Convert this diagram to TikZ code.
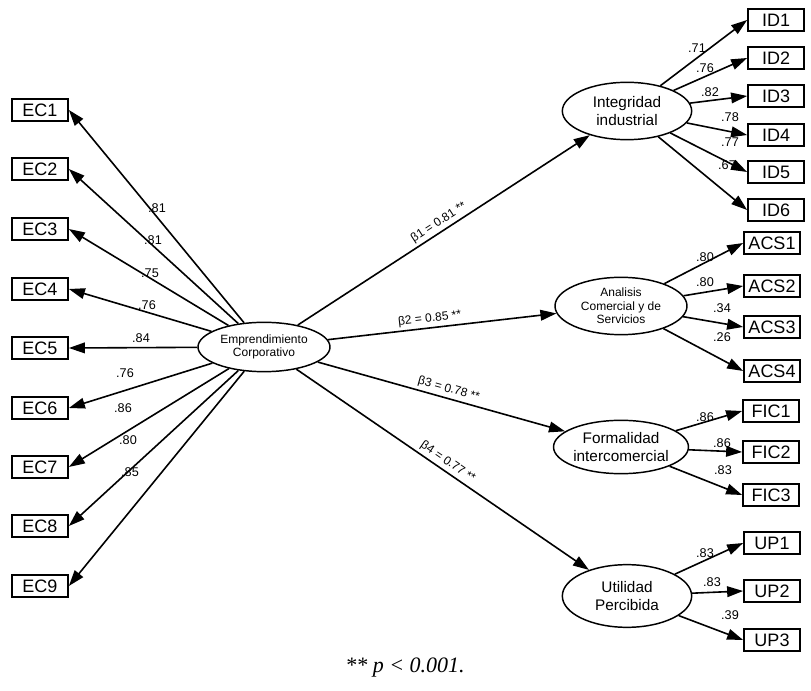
\documentclass[tikz,border=0pt]{standalone}
\usepackage{fontspec}
\setmainfont{Liberation Sans}
\newfontfamily\capfont{Liberation Serif}
\usetikzlibrary{shapes.geometric, arrows.meta}

\tikzset{
  ind/.style={draw, line width=1.3pt, minimum width=42pt, minimum height=17pt, inner sep=0pt, font=\fontsize{13.5}{13.5}\selectfont},
  lat/.style={draw, ellipse, line width=1.1pt, inner sep=0pt, align=center},
  arr/.style={line width=1.2pt, -{Triangle[length=12pt,width=8pt]}},
  load/.style={font=\fontsize{9.5}{9.5}\selectfont, inner sep=0pt},
  beta/.style={font=\fontsize{9}{9}\selectfont, sloped, above, inner sep=2pt}
}

\begin{document}
\begin{tikzpicture}[x=0.75pt, y=-0.75pt]
\useasboundingbox (0,0) rectangle (811,691);

% latent variables
\node[lat, minimum width=99pt, minimum height=37pt, font=\fontsize{9}{10}\selectfont] (emp) at (264,347) {Emprendimiento\\Corporativo};
\node[lat, minimum width=97pt, minimum height=43pt, font=\fontsize{11.5}{14}\selectfont] (integ) at (627,111) {Integridad\\industrial};
\node[lat, minimum width=99pt, minimum height=43pt, font=\fontsize{9}{10}\selectfont] (analisis) at (621,306) {Analisis\\Comercial y de\\Servicios};
\node[lat, minimum width=99pt, minimum height=40pt, font=\fontsize{11.5}{13.5}\selectfont] (formal) at (621,447) {Formalidad\\intercomercial};
\node[lat, minimum width=97pt, minimum height=47pt, font=\fontsize{11.5}{13}\selectfont] (util) at (627,596) {Utilidad\\Percibida};

% indicators of Emprendimiento Corporativo
\node[ind] (ec1) at (40,110) {EC1};
\node[ind] (ec2) at (40,169) {EC2};
\node[ind] (ec3) at (40,229) {EC3};
\node[ind] (ec4) at (40,289) {EC4};
\node[ind] (ec5) at (40,348) {EC5};
\node[ind] (ec6) at (40,408) {EC6};
\node[ind] (ec7) at (40,467) {EC7};
\node[ind] (ec8) at (40,526) {EC8};
\node[ind] (ec9) at (40,586) {EC9};

% indicators of the four outcomes
\node[ind] (id1) at (776,20) {ID1};
\node[ind] (id2) at (776,58) {ID2};
\node[ind] (id3) at (776,96) {ID3};
\node[ind] (id4) at (776,135) {ID4};
\node[ind] (id5) at (776,172) {ID5};
\node[ind] (id6) at (776,210) {ID6};

\node[ind] (acs1) at (772,243) {ACS1};
\node[ind] (acs2) at (772,286) {ACS2};
\node[ind] (acs3) at (772,327) {ACS3};
\node[ind] (acs4) at (772,371) {ACS4};

\node[ind] (fic1) at (771,411) {FIC1};
\node[ind] (fic2) at (771,452) {FIC2};
\node[ind] (fic3) at (771,495) {FIC3};

\node[ind] (up1) at (772,543) {UP1};
\node[ind] (up2) at (772,591) {UP2};
\node[ind] (up3) at (772,640) {UP3};

% loadings
\draw[arr] (emp) -- (ec1.east);
\draw[arr] (emp) -- (ec2.east);
\draw[arr] (emp) -- (ec3.east);
\draw[arr] (emp) -- (ec4.east);
\draw[arr] (emp) -- (ec5.east);
\draw[arr] (emp) -- (ec6.east);
\draw[arr] (emp) -- (ec7.east);
\draw[arr] (emp) -- (ec8.east);
\draw[arr] (emp) -- (ec9.east);

\draw[arr] (integ) -- (id1.west);
\draw[arr] (integ) -- (id2.west);
\draw[arr] (integ) -- (id3.west);
\draw[arr] (integ) -- (id4.west);
\draw[arr] (integ) -- (id5.west);
\draw[arr] (integ) -- (id6.west);

\draw[arr] (analisis) -- (acs1.west);
\draw[arr] (analisis) -- (acs2.west);
\draw[arr] (analisis) -- (acs3.west);
\draw[arr] (analisis) -- (acs4.west);

\draw[arr] (formal) -- (fic1.west);
\draw[arr] (formal) -- (fic2.west);
\draw[arr] (formal) -- (fic3.west);

\draw[arr] (util) -- (up1.west);
\draw[arr] (util) -- (up2.west);
\draw[arr] (util) -- (up3.west);

% structural paths
\draw[arr] (emp) -- node[beta] {β1 = 0.81 **} (integ);
\draw[arr] (emp) -- node[beta, pos=0.45] {β2 = 0.85 **} (analisis);
\draw[arr] (emp) -- node[beta, pos=0.52] {β3 = 0.78 **} (formal);
\draw[arr] (emp) -- node[beta, pos=0.5] {β4 = 0.77 **} (util);

% loading values
\node[load] at (157,208) {.81};
\node[load] at (153,240) {.81};
\node[load] at (150,273) {.75};
\node[load] at (147,305) {.76};
\node[load] at (141,338) {.84};
\node[load] at (125,373) {.76};
\node[load] at (123,408) {.86};
\node[load] at (128,440) {.80};
\node[load] at (130,472) {.85};

\node[load] at (697,48) {.71};
\node[load] at (705,68) {.76};
\node[load] at (710,92) {.82};
\node[load] at (730,117) {.78};
\node[load] at (730,142) {.77};
\node[load] at (727,165) {.67};

\node[load] at (705,257) {.80};
\node[load] at (705,282) {.80};
\node[load] at (722,308) {.34};
\node[load] at (722,337) {.26};

\node[load] at (705,417) {.86};
\node[load] at (722,443) {.86};
\node[load] at (723,470) {.83};

\node[load] at (705,553) {.83};
\node[load] at (712,582) {.83};
\node[load] at (730,615) {.39};

\node[font=\capfont\itshape\fontsize{16.5}{16.5}\selectfont] (note) at (405,668) {** p < 0.001.};
\end{tikzpicture}
\end{document}
